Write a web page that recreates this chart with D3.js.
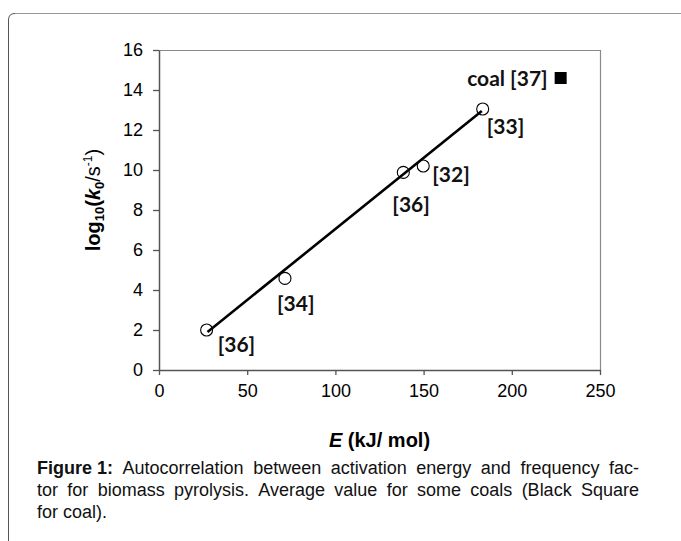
<!DOCTYPE html>
<html>
<head>
<meta charset="utf-8">
<script src="https://cdn.jsdelivr.net/npm/d3@7"></script>
<style>
  body { margin: 0; background: #fff; }
  svg { display: block; }
  .tick text { font-family: "Liberation Sans", Arial, sans-serif; font-size: 18px; fill: #000; }
  .refLabel { font-family: Lato, "Open Sans", sans-serif; font-weight: bold; font-size: 21px; fill: #111; }
</style>
</head>
<body>
<div id="chart"></div>
<script>
"use strict";

// activation energy E (kJ/mol) and log10(k0/s-1)
var energy = [27, 71.4, 138.5, 149.8, 183.5];
var logK0 = [2.0, 4.58, 9.88, 10.2, 13.05];
var refs = ["[36]", "[34]", "[36]", "[32]", "[33]"];

// coal average value (black square)
var coalE = [227.7];
var coalLogK0 = [14.6];
var coalRef = ["coal [37]"];

// trend line end points
var trendE = [27.5, 183];
var trendLogK0 = [1.9, 12.95];

var xTicks = [0, 50, 100, 150, 200, 250];
var yTicks = [0, 2, 4, 6, 8, 10, 12, 14, 16];

var captionLines = [
    ["Figure 1:", "Autocorrelation between activation energy and frequency fac-"],
    ["", "tor for biomass pyrolysis. Average value for some coals (Black Square"],
    ["", "for coal)."]
];

var chartW = 681, chartH = 541;
var plotLeft = 159, plotRight = 600, plotTop = 50, plotBottom = 370;

// label offsets from their point, pixels
var labelOffset = [[11, 22], [-8, 33], [-11, 40], [9, 16], [4, 25]];

var svg = d3.select("#chart").append("svg")
    .attr("width", chartW)
    .attr("height", chartH);

// page frame, rounded top-left corner
svg.append("path")
    .attr("d", "M8.5,541V20Q8.5,13.5,15,13.5")
    .attr("fill", "none").attr("stroke", "#555").attr("stroke-width", 1);
svg.append("path")
    .attr("d", "M15,13.5H681")
    .attr("fill", "none").attr("stroke", "#999").attr("stroke-width", 1);

var x = d3.scaleLinear().domain([0, 250]).range([plotLeft, plotRight]);
var y = d3.scaleLinear().domain([0, 16]).range([plotBottom, plotTop]);

// plot box top/right
svg.append("path")
    .attr("d", "M" + plotLeft + "," + (plotTop + 0.5) + "H" + (plotRight + 0.5) + "V" + plotBottom)
    .attr("fill", "none").attr("stroke", "#8a8a8a").attr("stroke-width", 1.2);

var xAxis = svg.append("g")
    .attr("transform", "translate(0," + plotBottom + ")")
    .call(d3.axisBottom(x).tickValues(xTicks).tickSize(5).tickSizeOuter(0).tickPadding(9));
var yAxis = svg.append("g")
    .attr("transform", "translate(" + plotLeft + ",0)")
    .call(d3.axisLeft(y).tickValues(yTicks).tickSize(6).tickSizeOuter(0).tickPadding(10));
[xAxis, yAxis].forEach(function (a) {
    a.select(".domain").attr("stroke", "#555").attr("stroke-width", 1.5);
    a.selectAll(".tick line").attr("stroke", "#555").attr("stroke-width", 1.3);
});

// trend line
var trend = trendE.map(function (e, i) { return [e, trendLogK0[i]]; });
svg.append("path")
    .datum(trend)
    .attr("d", d3.line().x(function (d) { return x(d[0]); }).y(function (d) { return y(d[1]); }))
    .attr("fill", "none").attr("stroke", "#000").attr("stroke-width", 2.6);

var points = energy.map(function (e, i) { return { e: e, k: logK0[i], ref: refs[i] }; });

svg.selectAll(".pt")
    .data(points)
    .enter().append("circle")
    .attr("class", "pt")
    .attr("cx", function (d) { return x(d.e); })
    .attr("cy", function (d) { return y(d.k); })
    .attr("r", 6)
    .attr("fill", "none").attr("stroke", "#000").attr("stroke-width", 1.1);

svg.selectAll(".refLabel.pts")
    .data(points)
    .enter().append("text")
    .attr("class", "refLabel pts")
    .attr("x", function (d, i) { return x(d.e) + labelOffset[i][0]; })
    .attr("y", function (d, i) { return y(d.k) + labelOffset[i][1]; })
    .text(function (d) { return d.ref; });

// coal
svg.selectAll(".coal")
    .data(coalE)
    .enter().append("rect")
    .attr("class", "coal")
    .attr("x", function (d) { return x(d) - 6; })
    .attr("y", function (d, i) { return y(coalLogK0[i]) - 6; })
    .attr("width", 12).attr("height", 12)
    .attr("fill", "#000");

svg.selectAll(".refLabel.coalLbl")
    .data(coalE)
    .enter().append("text")
    .attr("class", "refLabel coalLbl")
    .attr("text-anchor", "end")
    .attr("x", function (d) { return x(d) - 13; })
    .attr("y", function (d, i) { return y(coalLogK0[i]) + 8; })
    .text(function (d, i) { return coalRef[i]; });

// axis titles
var titleFont = "'Liberation Sans', Arial, sans-serif";
var xt = svg.append("text")
    .attr("x", (plotLeft + plotRight) / 2).attr("y", 447)
    .attr("text-anchor", "middle")
    .attr("font-family", titleFont).attr("font-weight", "bold").attr("font-size", 20);
xt.append("tspan").attr("font-style", "italic").text("E");
xt.append("tspan").text(" (kJ/ mol)");

var yt = svg.append("text")
    .attr("transform", "translate(100," + ((plotTop + plotBottom) / 2 - 10) + ") rotate(-90)")
    .attr("text-anchor", "middle")
    .attr("font-family", titleFont).attr("font-weight", "bold").attr("font-size", 20);
yt.append("tspan").text("log");
yt.append("tspan").attr("font-size", 13).attr("dy", 4).text("10");
yt.append("tspan").attr("dy", -4).text("(");
yt.append("tspan").attr("font-style", "italic").text("k");
yt.append("tspan").attr("font-size", 13).attr("dy", 4).text("0");
yt.append("tspan").attr("dy", -4).attr("font-weight", "normal").text("/s");
yt.append("tspan").attr("font-size", 12).attr("font-weight", "normal").attr("dy", -8).text("-1");
yt.append("tspan").attr("dy", 8).attr("font-weight", "normal").text(")");

// caption, justified word by word
var capLeft = 37, capRight = 639, capTop = 474, capStep = 22;
captionLines.forEach(function (line, li) {
    var words = [];
    if (line[0]) words.push({ t: line[0], b: true });
    line[1].split(" ").forEach(function (w) { words.push({ t: w, b: false }); });
    var g = svg.append("g");
    var nodes = words.map(function (w) {
        return g.append("text")
            .attr("y", capTop + li * capStep)
            .attr("font-family", titleFont).attr("font-size", 18)
            .attr("font-weight", w.b ? "bold" : "normal")
            .attr("fill", "#111")
            .text(w.t);
    });
    var widths = nodes.map(function (n) { return n.node().getComputedTextLength(); });
    var total = d3.sum(widths);
    var last = li === captionLines.length - 1;
    var gap = last ? 5 : (capRight - capLeft - total) / (words.length - 1);
    var cx = capLeft;
    nodes.forEach(function (n, i) {
        n.attr("x", cx);
        cx += widths[i] + gap;
    });
});
</script>
</body>
</html>
